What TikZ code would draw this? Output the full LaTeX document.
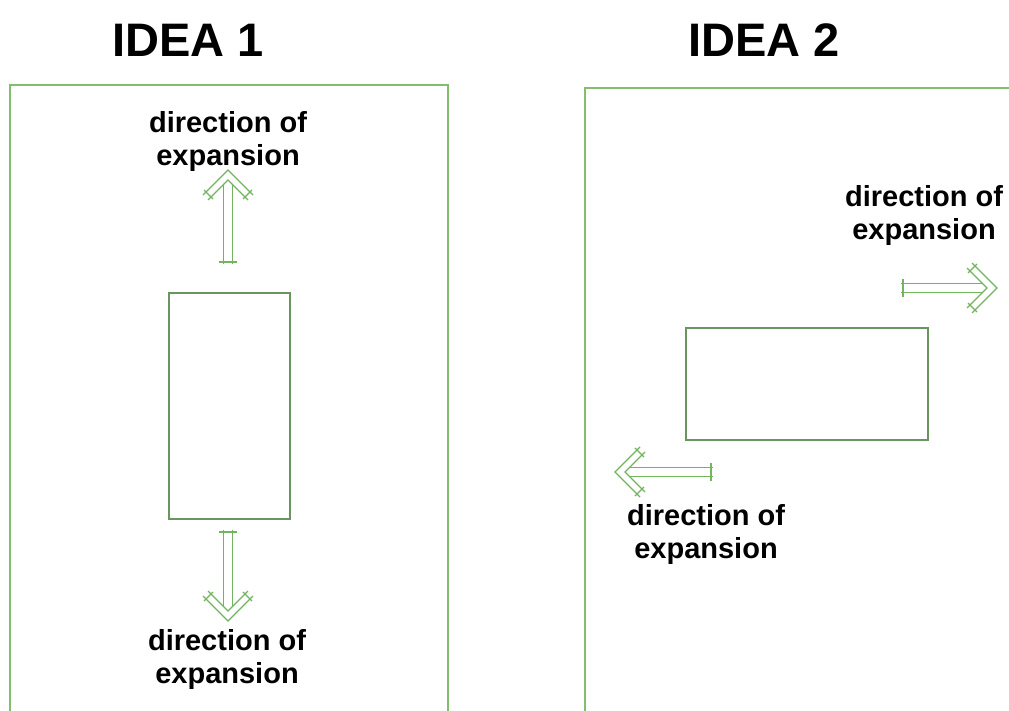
\documentclass[tikz,border=0pt]{standalone}
\usepackage{fontspec}
\setmainfont{Liberation Sans}
\definecolor{framegreen}{RGB}{130,190,110}
\definecolor{rectgreen}{RGB}{105,150,95}
\definecolor{arrowgreen}{RGB}{115,180,95}
\tikzset{
  frame/.style={draw=framegreen, line width=2pt},
  blockrect/.style={draw=rectgreen, line width=2pt},
  arrowline/.style={draw=arrowgreen, line width=1.1pt},
  title/.style={font=\bfseries\fontsize{47}{50}\selectfont, anchor=base, inner sep=0pt},
  % anchor=base sits on the baseline of the last line
  label/.style={font=\bfseries\fontsize{29}{33}\selectfont, align=center, anchor=base, inner sep=0pt},
  % hollow double-line arrow pointing along +x, tail at the origin, tip at #1
  pics/expandarrow/.style={code={
    \draw[arrowline] (0,-4.5) -- (#1-14.5,-4.5);
    \draw[arrowline] (0,4.5) -- (#1-14.5,4.5);
    \draw[arrowline] (2,-9) -- (2,9);
    \draw[arrowline] (#1-25,-25) -- (#1,0) -- (#1-25,25);
    \draw[arrowline] (#1-30,-20) -- (#1-10,0) -- (#1-30,20);
    \draw[arrowline] (#1-20,24) -- (#1-29,15);
    \draw[arrowline] (#1-20,-24) -- (#1-29,-15);
  }}
}
\begin{document}
\begin{tikzpicture}[x=1pt, y=-1pt]
  \useasboundingbox (0,0) rectangle (1009,711);
  \fill[white] (0,0) rectangle (1009,711);

  % first idea: vertical expansion
  \node[title] (t1) at (188,57) {IDEA 1};
  \draw[frame] (10,725) -- (10,85) -- (448,85) -- (448,725);
  \node[blockrect, minimum width=121pt, minimum height=226pt, inner sep=0pt] (r1) at (229.5,406) {};
  \node[label] (l1a) at (228,166) {direction of\\expansion};
  \pic[rotate=90] at (228,264) {expandarrow=94};
  \pic[rotate=-90] at (228,530) {expandarrow=91};
  \node[label] (l1b) at (227,683) {direction of\\expansion};

  % second idea: horizontal expansion
  \node[title] (t2) at (764,57) {IDEA 2};
  \draw[frame] (585,725) -- (585,88) -- (1020,88);
  \node[blockrect, minimum width=242pt, minimum height=112pt, inner sep=0pt] (r2) at (807,384) {};
  \node[label] (l2a) at (924,240) {direction of\\expansion};
  \pic at (901,288) {expandarrow=96};
  \pic[rotate=180] at (713,472) {expandarrow=98};
  \node[label] (l2b) at (706,558) {direction of\\expansion};
\end{tikzpicture}
\end{document}
